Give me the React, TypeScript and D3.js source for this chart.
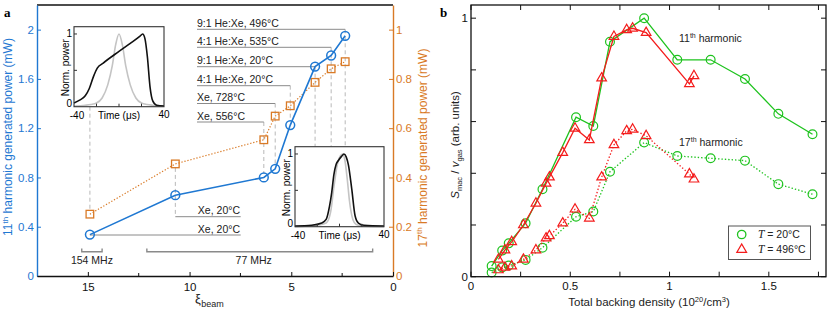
import { useRef, useEffect } from 'react';
import * as d3 from 'd3';

// ---- panel a data ----
const xiBeam = [14.9, 10.7, 6.35, 5.79, 5.05, 3.83, 3.04, 2.35];
const power11 = [0.336, 0.656, 0.8, 0.87, 1.225, 1.7, 1.79, 1.95];
const power17 = [0.251, 0.455, 0.553, 0.649, 0.691, 0.786, 0.841, 0.87];
const gasLabels = [
  'Xe, 20°C', 'Xe, 20°C', 'Xe, 556°C', 'Xe, 728°C',
  '4:1 He:Xe, 20°C', '9:1 He:Xe, 20°C', '4:1 He:Xe, 535°C', '9:1 He:Xe, 496°C',
];
const power11Ticks = [0, 0.4, 0.8, 1.2, 1.6, 2];
const power17Ticks = [0, 0.2, 0.4, 0.6, 0.8, 1];
const xiTicks = [15, 10, 5, 0];
const xiMinorTicks = [12.5, 7.5, 2.5];
const repRates = [
  { label: '154 MHz', from: 15.3, to: 14.3, textAt: 14.8 },
  { label: '77 MHz', from: 12.1, to: 1.0, textAt: 6.85 },
];

// inset pulses: [time (us), normalised power]
const pulseBroadBlack: [number, number][] = [
  [-40, 0.05], [-35, 0.09], [-30, 0.15], [-26.4, 0.25], [-22.8, 0.41], [-19.3, 0.53],
  [-14, 0.6], [0, 0.76], [10, 0.87], [18.7, 0.97], [21, 1.0], [23, 0.94], [25.2, 0.69],
  [27.6, 0.27], [30, 0.08], [33.5, 0.02], [40, 0.01],
];
const pulseBroadGray: [number, number][] = [
  [-40, 0.01], [-30, 0.02], [-25, 0.03], [-20, 0.05], [-15, 0.12], [-10, 0.3], [-6, 0.56],
  [-3, 0.85], [0, 1], [3, 0.85], [6, 0.56], [10, 0.3], [15, 0.12], [20, 0.05], [25, 0.03],
  [30, 0.02], [40, 0.01],
];
const pulseNarrowBlack: [number, number][] = [
  [-40, 0.01], [-25, 0.02], [-16, 0.05], [-12, 0.1], [-9, 0.28], [-7, 0.47], [-5, 0.72],
  [-3, 0.86], [-1, 0.91], [2, 0.97], [4, 1.0], [6, 0.96], [8, 0.85], [11, 0.52], [14, 0.15],
  [17, 0.05], [22, 0.02], [40, 0.01],
];
const pulseNarrowGray: [number, number][] = [
  [-40, 0], [-20, 0.02], [-12, 0.05], [-8, 0.2], [-5, 0.55], [-2, 0.85], [1, 0.98], [3, 1.0],
  [5, 0.9], [7, 0.65], [9, 0.35], [12, 0.1], [15, 0.03], [20, 0.01], [40, 0],
];

// ---- panel b data ----
const density20 = [0.104, 0.157, 0.19, 0.275, 0.36, 0.529, 0.616, 0.7, 0.872, 1.039, 1.207, 1.38, 1.548, 1.72];
const h11At20 = [0.041, 0.101, 0.129, 0.207, 0.338, 0.617, 0.583, 0.909, 1.0, 0.839, 0.839, 0.765, 0.63, 0.551];
const h17At20 = [0.016, 0.036, 0.043, 0.065, 0.112, 0.232, 0.252, 0.406, 0.519, 0.467, 0.458, 0.449, 0.358, 0.319];
const density496 = [0.138, 0.171, 0.205, 0.264, 0.327, 0.378, 0.395, 0.462, 0.524, 0.596, 0.658, 0.72, 0.784, 0.814, 0.882, 1.1, 1.123];
const h11At496 = [0.067, 0.103, 0.135, 0.2, 0.284, 0.361, 0.385, 0.48, 0.574, 0.529, 0.768, 0.929, 0.955, 0.961, 0.944, 0.746, 0.777];
const h17At496 = [0.026, 0.036, 0.041, 0.067, 0.103, 0.149, 0.158, 0.207, 0.261, 0.226, 0.385, 0.51, 0.564, 0.57, 0.545, 0.397, 0.377];
const densityTicks = [0, 0.25, 0.5, 0.75, 1, 1.25, 1.5, 1.75];
const signalTicks = [0, 0.2, 0.4, 0.6, 0.8, 1];

const BLUE = '#1f78d2';
const ORANGE = '#d97a26';
const GREEN = '#1ec31e';
const RED = '#f41c1c';
const SANS = '"Liberation Sans", Arial, Helvetica, sans-serif';

export default function App() {
  const svgRef = useRef<SVGSVGElement>(null);

  useEffect(() => {
    const svg = d3.select(svgRef.current);
    svg.selectAll('*').remove();
    svg.style('font-family', SANS);

    // =================== panel a ===================
    const xA = d3.scaleLinear().domain([17.5, 0]).range([37, 393]);
    const y11 = d3.scaleLinear().domain([0, 2.2]).range([276, 5]);
    const y17 = d3.scaleLinear().domain([0, 1.1]).range([276, 5]);
    const a = svg.append('g');

    const inset1 = { x0: 74, x1: 164, y0: 26.7, y1: 106.7 };
    const inset2 = { x0: 295, x1: 384, y0: 146.7, y1: 226.7 };

    // label rows (pixel y of underline) for top labels, index 2..7
    const topRows = [122, 103.5, 85.7, 66.7, 47.3, 29.3];
    const bottomRows = [235, 216.7];

    // dashed guides
    const dash = (x: number, ya: number, yb: number) =>
      a.append('line').attr('x1', x).attr('x2', x).attr('y1', ya).attr('y2', yb)
        .attr('stroke', '#b8b8b8').attr('stroke-width', 1).attr('stroke-dasharray', '4,3');
    dash(xA(xiBeam[0]), inset1.y1, y17(power17[0]) - 4);
    dash(xA(xiBeam[1]), y17(power17[1]) + 4, bottomRows[1]);
    for (let i = 2; i < 8; i++) {
      const yEnd = i <= 4 ? y11(power11[i]) - 4 : inset2.y0;
      dash(xA(xiBeam[i]), topRows[i - 2], yEnd);
    }

    // label underlines & texts
    for (let i = 2; i < 8; i++) {
      a.append('line').attr('x1', 197).attr('x2', xA(xiBeam[i]))
        .attr('y1', topRows[i - 2]).attr('y2', topRows[i - 2])
        .attr('stroke', '#8a8a8a').attr('stroke-width', 1);
      a.append('text').attr('x', 197).attr('y', topRows[i - 2] - 2.5)
        .attr('font-size', 10.5).attr('fill', '#222').text(gasLabels[i]);
    }
    for (let i = 0; i < 2; i++) {
      a.append('line').attr('x1', xA(xiBeam[i])).attr('x2', 240.7)
        .attr('y1', bottomRows[i]).attr('y2', bottomRows[i])
        .attr('stroke', '#8a8a8a').attr('stroke-width', 1);
      a.append('text').attr('x', 240).attr('y', bottomRows[i] - 2.5)
        .attr('text-anchor', 'end').attr('font-size', 10.5).attr('fill', '#222').text(gasLabels[i]);
    }

    // repetition-rate brackets
    repRates.forEach(r => {
      const x1 = xA(r.from), x2 = xA(r.to);
      a.append('path').attr('d', `M${x1},248.5V251.7H${x2}V248.5`)
        .attr('fill', 'none').attr('stroke', '#8a8a8a').attr('stroke-width', 1.4);
      a.append('text').attr('x', xA(r.textAt)).attr('y', 264).attr('text-anchor', 'middle')
        .attr('font-size', 10.5).attr('fill', '#222').text(r.label);
    });

    const idx = d3.range(xiBeam.length);
    // 17th harmonic (orange dotted)
    a.append('path').datum(idx)
      .attr('d', d3.line<number>().x(i => xA(xiBeam[i])).y(i => y17(power17[i])))
      .attr('fill', 'none').attr('stroke', ORANGE).attr('stroke-width', 1.2)
      .attr('stroke-dasharray', '1.3,1.8');
    a.selectAll('rect.sq').data(idx).join('rect').attr('class', 'sq')
      .attr('x', i => xA(xiBeam[i]) - 3.8).attr('y', i => y17(power17[i]) - 3.8)
      .attr('width', 7.6).attr('height', 7.6)
      .attr('fill', 'none').attr('stroke', ORANGE).attr('stroke-width', 1.3);

    // 11th harmonic (blue solid)
    a.append('path').datum(idx)
      .attr('d', d3.line<number>().x(i => xA(xiBeam[i])).y(i => y11(power11[i])))
      .attr('fill', 'none').attr('stroke', BLUE).attr('stroke-width', 1.6);
    a.selectAll('circle.c11').data(idx).join('circle').attr('class', 'c11')
      .attr('cx', i => xA(xiBeam[i])).attr('cy', i => y11(power11[i])).attr('r', 4.4)
      .attr('fill', 'none').attr('stroke', BLUE).attr('stroke-width', 1.5);

    // insets
    const drawInset = (box: typeof inset1, black: [number, number][], gray: [number, number][]) => {
      const g = a.append('g');
      const tx = d3.scaleLinear().domain([-40, 40]).range([box.x0, box.x1]);
      const ty = d3.scaleLinear().domain([0, 1.1]).range([box.y1, box.y0]);
      g.append('rect').attr('x', box.x0).attr('y', box.y0)
        .attr('width', box.x1 - box.x0).attr('height', box.y1 - box.y0).attr('fill', '#fff');
      const ln = d3.line<[number, number]>().x(d => tx(d[0])).y(d => ty(d[1])).curve(d3.curveMonotoneX);
      g.append('path').datum(gray).attr('d', ln).attr('fill', 'none')
        .attr('stroke', '#c4c4c4').attr('stroke-width', 1.6);
      g.append('path').datum(black).attr('d', ln).attr('fill', 'none')
        .attr('stroke', '#111').attr('stroke-width', 1.6);
      g.append('rect').attr('x', box.x0).attr('y', box.y0)
        .attr('width', box.x1 - box.x0).attr('height', box.y1 - box.y0)
        .attr('fill', 'none').attr('stroke', '#333').attr('stroke-width', 1.1);
      [-20, 0, 20].forEach(t => g.append('line').attr('x1', tx(t)).attr('x2', tx(t))
        .attr('y1', box.y1).attr('y2', box.y1 - 3).attr('stroke', '#333'));
      [0.5, 1].forEach(v => g.append('line').attr('x1', box.x0).attr('x2', box.x0 + 3)
        .attr('y1', ty(v)).attr('y2', ty(v)).attr('stroke', '#333'));
      const fs = 10;
      g.append('text').attr('x', box.x0 - 2).attr('y', ty(1) + 3.5).attr('text-anchor', 'end')
        .attr('font-size', fs).text('1');
      g.append('text').attr('x', box.x0 - 2).attr('y', box.y1).attr('text-anchor', 'end')
        .attr('font-size', fs).text('0');
      g.append('text').attr('x', tx(-40) + 3).attr('y', box.y1 + 12.5).attr('text-anchor', 'middle')
        .attr('font-size', fs).text('-40');
      g.append('text').attr('x', tx(40)).attr('y', box.y1 + 11).attr('text-anchor', 'middle')
        .attr('font-size', fs).text('40');
      g.append('text').attr('x', tx(0)).attr('y', box.y1 + 12.5).attr('text-anchor', 'middle')
        .attr('font-size', fs).text('Time (μs)');
      g.append('text')
        .attr('transform', `translate(${box.x0 - 5},${(box.y0 + box.y1) / 2 + 1}) rotate(-90)`)
        .attr('text-anchor', 'middle').attr('font-size', fs).text('Norm. power');
    };
    drawInset(inset1, pulseBroadBlack, pulseBroadGray);
    drawInset(inset2, pulseNarrowBlack, pulseNarrowGray);

    // axes
    a.append('line').attr('x1', 37).attr('x2', 393).attr('y1', 5).attr('y2', 5)
      .attr('stroke', '#111').attr('stroke-width', 1.4);

    const axL = a.append('g').attr('transform', 'translate(37,0)')
      .call(d3.axisLeft(y11).tickValues(power11Ticks).tickSizeInner(-4).tickSizeOuter(0)
        .tickPadding(3).tickFormat(d => d3.format('~g')(+d)));
    axL.select('.domain').attr('stroke', BLUE).attr('stroke-width', 1.4);
    axL.selectAll('line').attr('stroke', BLUE);
    axL.selectAll('text').attr('fill', BLUE).style('font-size', '11.5px').style('font-family', SANS);

    const axR = a.append('g').attr('transform', 'translate(393,0)')
      .call(d3.axisRight(y17).tickValues(power17Ticks).tickSizeInner(-4).tickSizeOuter(0)
        .tickPadding(3).tickFormat(d => d3.format('~g')(+d)));
    axR.select('.domain').attr('stroke', ORANGE).attr('stroke-width', 1.4);
    axR.selectAll('line').attr('stroke', ORANGE);
    axR.selectAll('text').attr('fill', ORANGE).style('font-size', '11.5px').style('font-family', SANS);

    const axB = a.append('g').attr('transform', 'translate(0,276)')
      .call(d3.axisBottom(xA).tickValues(xiTicks).tickSizeInner(-4).tickSizeOuter(0).tickPadding(7)
        .tickFormat(d => String(d)));
    axB.select('.domain').attr('stroke', '#111').attr('stroke-width', 1.6);
    axB.selectAll('line').attr('stroke', '#111');
    axB.selectAll('text').attr('fill', '#111').style('font-size', '11.5px').style('font-family', SANS);
    xiMinorTicks.forEach(t => a.append('line').attr('x1', xA(t)).attr('x2', xA(t))
      .attr('y1', 276).attr('y2', 273).attr('stroke', '#111'));

    // axis titles
    const tL = a.append('text').attr('transform', 'translate(12,137) rotate(-90)')
      .attr('text-anchor', 'middle').attr('font-size', 12).attr('fill', BLUE);
    tL.append('tspan').text('11');
    tL.append('tspan').attr('font-size', 8).attr('dy', -4.5).text('th');
    tL.append('tspan').attr('dy', 4.5).text(' harmonic generated power (mW)');

    const tR = a.append('text').attr('transform', 'translate(426.5,148) rotate(-90)')
      .attr('text-anchor', 'middle').attr('font-size', 12).attr('fill', ORANGE);
    tR.append('tspan').text('17');
    tR.append('tspan').attr('font-size', 8).attr('dy', -4.5).text('th');
    tR.append('tspan').attr('dy', 4.5).text(' harmonic generated power (mW)');

    const tX = a.append('text').attr('x', 195).attr('y', 303).attr('font-size', 13).attr('fill', '#222');
    tX.append('tspan').text('ξ');
    tX.append('tspan').attr('font-size', 9).attr('dy', 4).attr('dx', 0.5).text('beam');

    a.append('text').attr('x', 4).attr('y', 17).attr('font-family', '"Liberation Serif", serif')
      .attr('font-weight', 'bold').attr('font-size', 13).text('a');

    // =================== panel b ===================
    const b = svg.append('g');
    const xB = d3.scaleLinear().domain([0, 1.788]).range([471, 826]);
    const yB = d3.scaleLinear().domain([0, 1.051]).range([276.7, 5]);

    const triangle = d3.symbol().type(d3.symbolTriangle).size(40);

    const series = [
      { d: density20, v: h17At20, color: GREEN, dotted: true, marker: 'o' },
      { d: density496, v: h17At496, color: RED, dotted: true, marker: '^' },
      { d: density20, v: h11At20, color: GREEN, dotted: false, marker: 'o' },
      { d: density496, v: h11At496, color: RED, dotted: false, marker: '^' },
    ];
    series.forEach(s => {
      const ids = d3.range(s.d.length);
      b.append('path').datum(ids)
        .attr('d', d3.line<number>().x(i => xB(s.d[i])).y(i => yB(s.v[i])))
        .attr('fill', 'none').attr('stroke', s.color).attr('stroke-width', 1.3)
        .attr('stroke-dasharray', s.dotted ? '1.4,2' : null);
      if (s.marker === 'o') {
        b.append('g').selectAll('circle').data(ids).join('circle')
          .attr('cx', i => xB(s.d[i])).attr('cy', i => yB(s.v[i])).attr('r', 4.4)
          .attr('fill', 'none').attr('stroke', s.color).attr('stroke-width', 1.2);
      } else {
        b.append('g').selectAll('path').data(ids).join('path')
          .attr('transform', i => `translate(${xB(s.d[i])},${yB(s.v[i])})`)
          .attr('d', triangle()!)
          .attr('fill', 'none').attr('stroke', s.color).attr('stroke-width', 1.2);
      }
    });

    // frame & ticks
    b.append('rect').attr('x', 471).attr('y', 5).attr('width', 355).attr('height', 271.7)
      .attr('fill', 'none').attr('stroke', '#111').attr('stroke-width', 1.3);
    densityTicks.forEach(t => {
      b.append('line').attr('x1', xB(t)).attr('x2', xB(t)).attr('y1', 276.7).attr('y2', 271.7).attr('stroke', '#111');
      b.append('line').attr('x1', xB(t)).attr('x2', xB(t)).attr('y1', 5).attr('y2', 10).attr('stroke', '#111');
      if ([0, 0.5, 1, 1.5].includes(t)) {
        b.append('text').attr('x', xB(t)).attr('y', 290).attr('text-anchor', 'middle')
          .attr('font-size', 11.5).attr('fill', '#111').text(d3.format('~g')(t));
      }
    });
    signalTicks.forEach(t => {
      b.append('line').attr('x1', 471).attr('x2', 476).attr('y1', yB(t)).attr('y2', yB(t)).attr('stroke', '#111');
      b.append('line').attr('x1', 826).attr('x2', 821).attr('y1', yB(t)).attr('y2', yB(t)).attr('stroke', '#111');
      if (t === 0 || t === 1) {
        b.append('text').attr('x', 468).attr('y', yB(t) + 4).attr('text-anchor', 'end')
          .attr('font-size', 11.5).attr('fill', '#111').text(String(t));
      }
    });

    // harmonic annotations
    [['11', 42], ['17', 146]].forEach(([n, y]) => {
      const t = b.append('text').attr('x', 679).attr('y', y as number).attr('font-size', 10.5).attr('fill', '#222');
      t.append('tspan').text(n as string);
      t.append('tspan').attr('font-size', 7).attr('dy', -4).text('th');
      t.append('tspan').attr('dy', 4).text(' harmonic');
    });

    // legend
    b.append('rect').attr('x', 728.5).attr('y', 226).attr('width', 82).attr('height', 33.5)
      .attr('fill', '#fff').attr('stroke', '#555').attr('stroke-width', 1);
    b.append('circle').attr('cx', 741.7).attr('cy', 234.5).attr('r', 4.2)
      .attr('fill', 'none').attr('stroke', GREEN).attr('stroke-width', 1.3);
    b.append('path').attr('transform', 'translate(741.7,249.5)').attr('d', triangle()!)
      .attr('fill', 'none').attr('stroke', RED).attr('stroke-width', 1.3);
    [['20°C', 238], ['496°C', 252.5]].forEach(([lab, y]) => {
      const t = b.append('text').attr('x', 758).attr('y', y as number).attr('font-size', 10.5).attr('fill', '#222');
      t.append('tspan').attr('font-family', '"Liberation Serif", serif').attr('font-style', 'italic')
        .attr('font-size', 11.5).text('T');
      t.append('tspan').text(` = ${lab}`);
    });

    // axis titles
    const bx = b.append('text').attr('x', 649).attr('y', 306).attr('text-anchor', 'middle')
      .attr('font-size', 11.5).attr('fill', '#222');
    bx.append('tspan').text('Total backing density (10');
    bx.append('tspan').attr('font-size', 7.5).attr('dy', -4.5).text('20');
    bx.append('tspan').attr('dy', 4.5).text('/cm');
    bx.append('tspan').attr('font-size', 7.5).attr('dy', -4.5).text('3');
    bx.append('tspan').attr('dy', 4.5).text(')');

    const by = b.append('text').attr('transform', 'translate(459,145) rotate(-90)')
      .attr('text-anchor', 'middle').attr('font-size', 11.5).attr('fill', '#222');
    by.append('tspan').attr('font-style', 'italic').text('S');
    by.append('tspan').attr('font-size', 7.5).attr('dy', 3).text('mac');
    by.append('tspan').attr('dy', -3).text(' / ');
    by.append('tspan').attr('font-style', 'italic').text('v');
    by.append('tspan').attr('font-size', 7.5).attr('dy', 3).text('gas');
    by.append('tspan').attr('dy', -3).text('  (arb. units)');

    svg.append('text').attr('x', 440).attr('y', 17).attr('font-family', '"Liberation Serif", serif')
      .attr('font-weight', 'bold').attr('font-size', 13).text('b');
  }, []);

  return (
    <svg ref={svgRef} width={830} height={314}
      style={{ position: 'absolute', left: 0, top: 0, background: '#fff' }} />
  );
}
